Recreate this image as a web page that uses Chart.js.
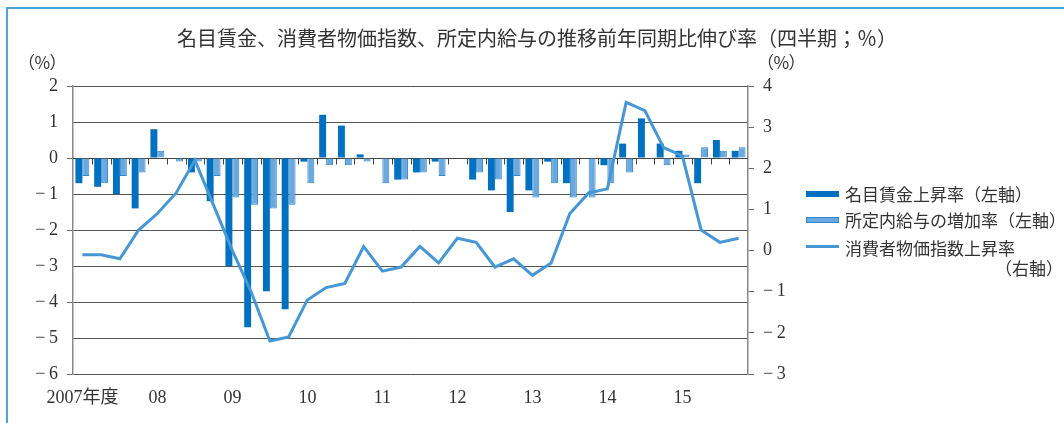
<!DOCTYPE html>
<html lang="ja">
<head>
<meta charset="utf-8">
<script src="https://cdn.jsdelivr.net/npm/chart.js@4/dist/chart.umd.min.js"></script>
<style>
  html, body { margin: 0; padding: 0; background: #fff; }
  #wrap { position: relative; width: 1064px; height: 423px; overflow: hidden; font-family: 'Noto Sans CJK JP', sans-serif; color: #333; }
  #frame { position: absolute; left: 6px; top: 7px; width: 1100px; height: 500px; border-left: 2px solid #4aa3df; border-top: 2px solid #4aa3df; }
  #chart { position: absolute; left: 0; top: 0; }
  .txt { position: absolute; white-space: nowrap; line-height: 1; }
  #title { left: 0; width: 1074px; top: 28px; text-align: center; font-size: 20px; }
  .unit { top: 53px; font-size: 17px; font-feature-settings: "palt"; }
  .sym { position: absolute; left: 806px; width: 33px; }
  .leg { left: 845px; font-size: 17px; }
</style>
</head>
<body>
<div id="wrap">
  <div id="frame"></div>
  <canvas id="chart" width="1064" height="423"></canvas>
  <div class="txt" id="title">名目賃金、消費者物価指数、所定内給与の推移前年同期比伸び率（四半期；％）</div>
  <div class="txt unit" style="left:26px">（%）</div>
  <div class="txt unit" style="left:765px">（%）</div>

  <div class="sym" style="top:191px;height:6px;background:#0071c1"></div>
  <div class="txt leg" style="top:185px">名目賃金上昇率（左軸）</div>
  <div class="sym" style="top:217px;height:4px;background:#6ba8de;border:1px solid #2e86d1;width:31px"></div>
  <div class="txt leg" style="top:211px">所定内給与の増加率（左軸）</div>
  <div class="sym" style="top:245px;height:3px;background:#4597d6"></div>
  <div class="txt leg" style="top:239px">消費者物価指数上昇率</div>
  <div class="txt leg" style="top:259px;left:auto;right:1px">（右軸）</div>
</div>

<script>
// 四半期（2007年度Q1〜2015年度Q4）
const quarters = [
  '07Q1','07Q2','07Q3','07Q4','08Q1','08Q2','08Q3','08Q4',
  '09Q1','09Q2','09Q3','09Q4','10Q1','10Q2','10Q3','10Q4',
  '11Q1','11Q2','11Q3','11Q4','12Q1','12Q2','12Q3','12Q4',
  '13Q1','13Q2','13Q3','13Q4','14Q1','14Q2','14Q3','14Q4',
  '15Q1','15Q2','15Q3','15Q4'
];
const yearTicks = ['2007年度', '08', '09', '10', '11', '12', '13', '14', '15'];

// 名目賃金上昇率（左軸）
const nominalWage = [
  -0.7, -0.8, -1.0, -1.4, 0.8, 0.0, -0.4, -1.2,
  -3.0, -4.7, -3.7, -4.2, -0.1, 1.2, 0.9, 0.1,
  0.0, -0.6, -0.4, -0.1, 0.0, -0.6, -0.9, -1.5,
  -0.9, -0.1, -0.7, 0.0, -0.2, 0.4, 1.1, 0.4,
  0.2, -0.7, 0.5, 0.2
];
// 所定内給与の増加率（左軸）
const scheduledPay = [
  -0.5, -0.7, -0.5, -0.4, 0.2, -0.1, -0.1, -0.5,
  -1.1, -1.3, -1.4, -1.3, -0.7, -0.2, -0.2, -0.1,
  -0.7, -0.6, -0.4, -0.5, 0.0, -0.4, -0.6, -0.5,
  -1.1, -0.7, -1.1, -1.1, -0.7, -0.4, 0.0, -0.2,
  0.1, 0.3, 0.2, 0.3
];
// 消費者物価指数上昇率（右軸）
const cpi = [
  -0.1, -0.1, -0.2, 0.5, 0.9, 1.4, 2.2, 1.1,
  0.0, -1.0, -2.2, -2.1, -1.2, -0.9, -0.8, 0.1,
  -0.5, -0.4, 0.1, -0.3, 0.3, 0.2, -0.4, -0.2,
  -0.6, -0.3, 0.9, 1.4, 1.5, 3.6, 3.4, 2.5,
  2.3, 0.5, 0.2, 0.3
];

const numFont = { family: "'Liberation Serif', 'Noto Sans CJK JP', serif", size: 18 };
const fmt = v => (v < 0 ? '\u2212\u2009' + Math.abs(v) : String(v));

// x軸（0の位置）と区切り目盛り
const zeroAxisTicks = {
  id: 'zeroAxisTicks',
  beforeDatasetsDraw(chart) {
    const { ctx, chartArea, scales: { x, y } } = chart;
    const y0 = Math.round(y.getPixelForValue(0)) + 0.5;
    ctx.save();
    ctx.strokeStyle = '#444';
    ctx.lineWidth = 1;
    ctx.beginPath();
    ctx.moveTo(chartArea.left, y0);
    ctx.lineTo(chartArea.right, y0);
    for (let i = 1; i < quarters.length; i++) {
      const px = Math.round((x.getPixelForValue(i - 1) + x.getPixelForValue(i)) / 2) + 0.5;
      ctx.moveTo(px, y0);
      ctx.lineTo(px, y0 + 6);
    }
    ctx.stroke();
    ctx.restore();
  }
};

new Chart(document.getElementById('chart'), {
  data: {
    labels: quarters,
    datasets: [
      {
        type: 'line', label: '消費者物価指数上昇率', data: cpi, yAxisID: 'y2', order: 0,
        borderColor: '#4597d6', borderWidth: 3, pointRadius: 0, tension: 0, fill: false
      },
      {
        type: 'bar', label: '名目賃金上昇率（左軸）', data: nominalWage, yAxisID: 'y', order: 1,
        backgroundColor: '#0071c1', borderWidth: 0,
        categoryPercentage: 0.74, barPercentage: 1.0
      },
      {
        type: 'bar', label: '所定内給与の増加率（左軸）', data: scheduledPay, yAxisID: 'y', order: 2,
        backgroundColor: '#6ba8de', borderColor: '#2e86d1', borderWidth: 1,
        categoryPercentage: 0.74, barPercentage: 1.0
      }
    ]
  },
  options: {
    responsive: false,
    animation: false,
    devicePixelRatio: 1,
    layout: { padding: { top: 86, left: 0, right: 0, bottom: 0 } },
    plugins: { legend: { display: false }, title: { display: false }, tooltip: { enabled: false } },
    scales: {
      x: {
        grid: { display: false, drawTicks: false },
        border: { display: false },
        ticks: {
          autoSkip: false, maxRotation: 0, minRotation: 0, padding: 13,
          color: '#333', font: numFont,
          callback: (val, idx) => (idx % 4 === 0 ? yearTicks[idx / 4] : '')
        },
        afterFit: s => { s.height = 49; }
      },
      y: {
        position: 'left', min: -6, max: 2,
        ticks: { stepSize: 1, color: '#333', font: numFont, padding: 9, callback: fmt },
        grid: {
          color: '#555', lineWidth: 1, drawTicks: true, tickLength: 6,
          tickColor: c => (c.tick && c.tick.value % 2 === 0 ? '#666' : 'rgba(0,0,0,0)')
        },
        border: { display: true, color: '#888', width: 1.5 },
        afterFit: s => { s.width = 73; }
      },
      y2: {
        position: 'right', min: -3, max: 4,
        ticks: { stepSize: 1, color: '#333', font: numFont, padding: 9, callback: fmt },
        grid: { drawOnChartArea: false, drawTicks: true, tickLength: 6, tickColor: '#666' },
        border: { display: true, color: '#888', width: 1.5 },
        afterFit: s => { s.width = 316; }
      }
    }
  },
  plugins: [zeroAxisTicks]
});
</script>
</body>
</html>
